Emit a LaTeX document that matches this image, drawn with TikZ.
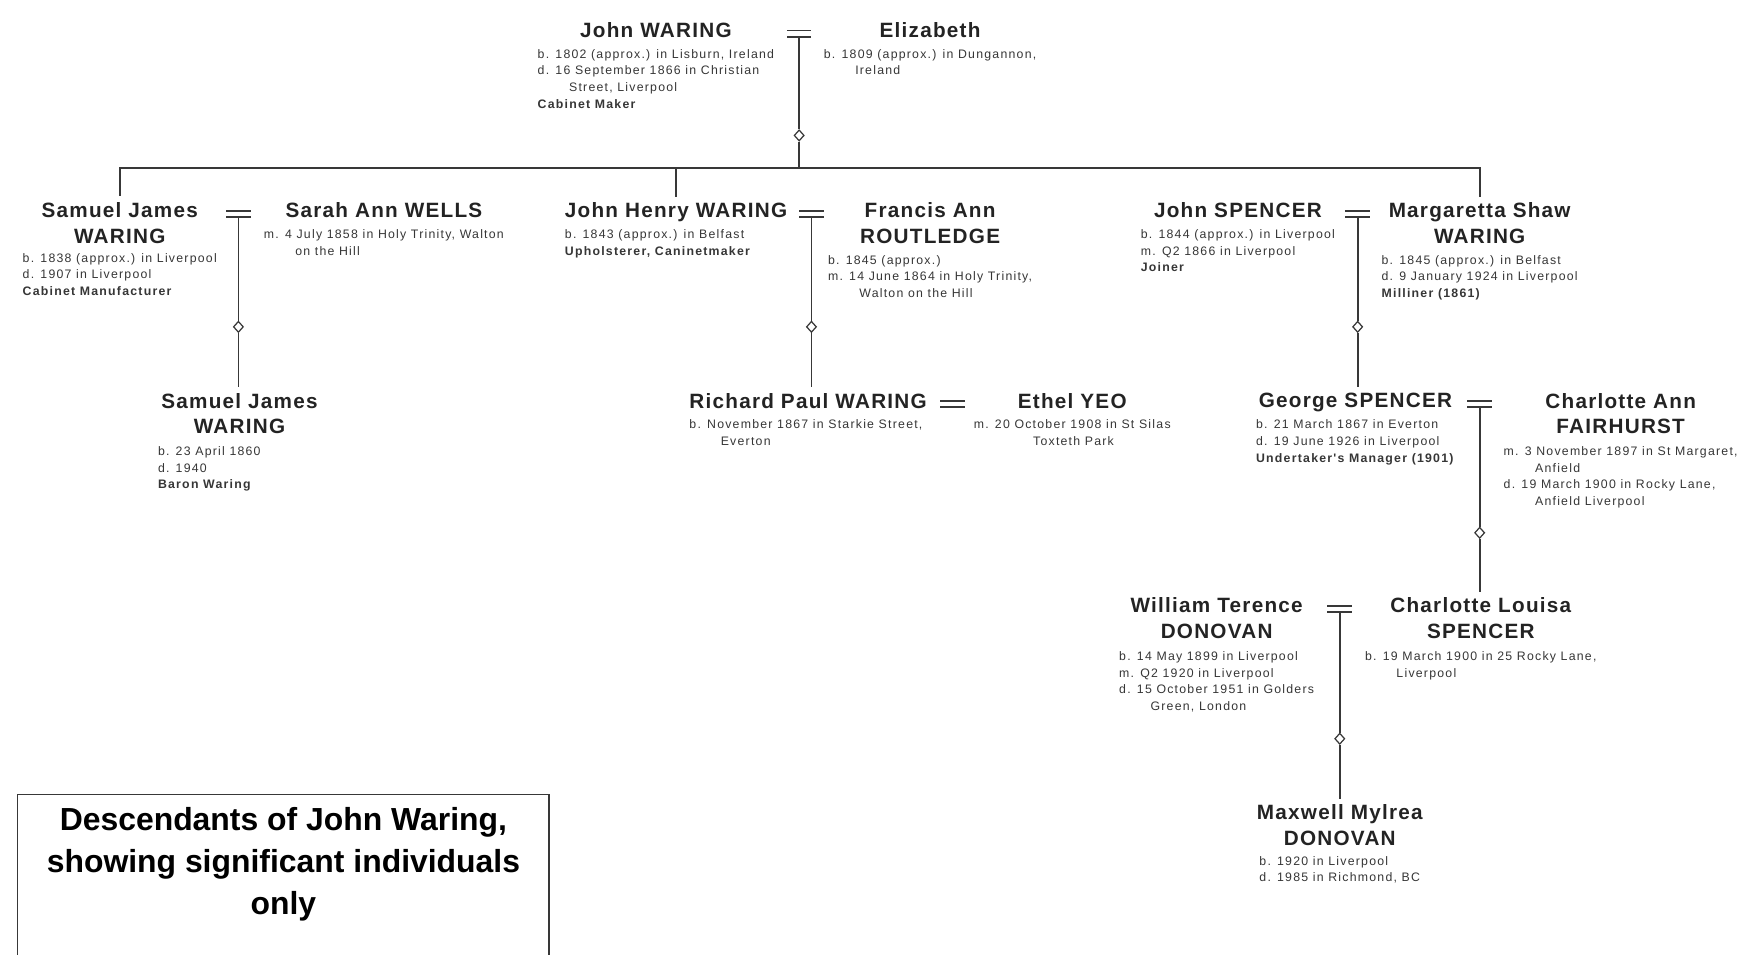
\documentclass[tikz,border=0pt]{standalone}
\usepackage{fontspec}
\setmainfont{Liberation Sans}
\newfontfamily\namefont[LetterSpace=6]{Liberation Sans}
\newfontfamily\infofont[LetterSpace=10]{Liberation Sans}
\usepackage{xcolor}
\usetikzlibrary{shapes.geometric,positioning,calc}
\definecolor{namecol}{HTML}{232323}
\definecolor{infocol}{HTML}{363636}
\definecolor{linecol}{HTML}{383838}
\newcommand{\wrapind}{\hspace*{28pt}}

\begin{document}
\begin{tikzpicture}[x=1pt, y=-1pt,
    pname/.style={font=\namefont\bfseries\fontsize{18.5}{23}\selectfont, text=namecol, align=center, inner sep=0pt, anchor=north},
    pinfo/.style={font=\infofont\fontsize{11}{14.8}\selectfont, text=infocol, align=left, inner sep=0pt, anchor=north},
    link/.style={draw=linecol, line width=1.6pt},
    wedlock/.style={draw=linecol, line width=1.6pt, double=white, double distance=4pt},
    issue/.style={diamond, draw=linecol, fill=white, line width=1.1pt, inner sep=0pt, minimum width=9pt, minimum height=10pt},
    titlebox/.style={draw=linecol, line width=1.4pt, anchor=north west, inner sep=0pt, minimum width=475pt, minimum height=200pt},
    titletext/.style={font=\bfseries\fontsize{28.5}{37.5}\selectfont, align=center, inner sep=0pt}]
    \useasboundingbox (0,0) rectangle (1568,853);

    % John and Elizabeth
    \node[pname] (john) at (586,20) {John WARING};
    \node[pinfo] (johninfo) at (586,44) {b. 1802 (approx.) in Lisburn, Ireland\\ d. 16 September 1866 in Christian\\ \wrapind Street, Liverpool\\ \textbf{Cabinet Maker}};
    \node[pname] (eliz) at (831,20) {Elizabeth};
    \node[pinfo] (elizinfo) at (831,44) {b. 1809 (approx.) in Dungannon,\\ \wrapind Ireland};
    \coordinate (m0) at (714,30);
    \node[issue] (d0) at (714,121) {};
    \coordinate (bar) at (714,150);

    % their children
    \node[pname] (samuel) at (107,181) {Samuel James\\ WARING};
    \node[pinfo] (samuelinfo) at (107,226) {b. 1838 (approx.) in Liverpool\\ d. 1907 in Liverpool\\ \textbf{Cabinet Manufacturer}};
    \coordinate (m1) at (213,191);
    \node[issue] (d1) at (213,292) {};
    \node[pname] (sarah) at (343,181) {Sarah Ann WELLS};
    \node[pinfo] (sarahinfo) at (343,205) {m. 4 July 1858 in Holy Trinity, Walton\\ \wrapind on the Hill};

    \node[pname] (jhenry) at (604,181) {John Henry WARING};
    \node[pinfo, anchor=north west] (jhenryinfo) at (jhenry.west |- 0,205) {b. 1843 (approx.) in Belfast\\ \textbf{Upholsterer, Caninetmaker}};
    \coordinate (m2) at (725,191);
    \node[issue] (d2) at (725,292) {};
    \node[pname] (francis) at (831,181) {Francis Ann\\ ROUTLEDGE};
    \node[pinfo] (francisinfo) at (831,228) {b. 1845 (approx.)\\ m. 14 June 1864 in Holy Trinity,\\ \wrapind Walton on the Hill};

    \node[pname] (jspencer) at (1106,181) {John SPENCER};
    \node[pinfo] (jspencerinfo) at (1106,205) {b. 1844 (approx.) in Liverpool\\ m. Q2 1866 in Liverpool\\ \textbf{Joiner}};
    \coordinate (m4) at (1213,191);
    \node[issue] (d4) at (1213,292) {};
    \node[pname] (marg) at (1322,181) {Margaretta Shaw\\ WARING};
    \node[pinfo] (marginfo) at (1322,228) {b. 1845 (approx.) in Belfast\\ d. 9 January 1924 in Liverpool\\ \textbf{Milliner (1861)}};

    % grandchildren
    \node[pname] (samjr) at (214,351) {Samuel James\\ WARING};
    \node[pinfo, anchor=north west] (samjrinfo) at (141,399) {b. 23 April 1860\\ d. 1940\\ \textbf{Baron Waring}};

    \node[pname] (richard) at (722,351) {Richard Paul WARING};
    \node[pinfo, anchor=north west] (richardinfo) at (richard.west |- 0,375) {b. November 1867 in Starkie Street,\\ \wrapind Everton};
    \coordinate (m3) at (851,361);
    \node[pname] (ethel) at (958,351) {Ethel YEO};
    \node[pinfo] (ethelinfo) at (958,375) {m. 20 October 1908 in St Silas\\ \hspace*{53pt}Toxteth Park};

    \node[pname] (george) at (1211,351) {George SPENCER};
    \node[pinfo] (georgeinfo) at (1211,375) {b. 21 March 1867 in Everton\\ d. 19 June 1926 in Liverpool\\ \textbf{Undertaker's Manager (1901)}};
    \coordinate (m5) at (1322,361);
    \node[issue] (d5) at (1322,476) {};
    \node[pname] (charann) at (1448,351) {Charlotte Ann\\ FAIRHURST};
    \node[pinfo] (charanninfo) at (1448,399) {m. 3 November 1897 in St Margaret,\\ \wrapind Anfield\\ d. 19 March 1900 in Rocky Lane,\\ \wrapind Anfield Liverpool};

    % next generations
    \node[pname] (william) at (1087,534) {William Terence\\ DONOVAN};
    \node[pinfo] (williaminfo) at (1087,582) {b. 14 May 1899 in Liverpool\\ m. Q2 1920 in Liverpool\\ d. 15 October 1951 in Golders\\ \wrapind Green, London};
    \coordinate (m6) at (1197,544);
    \node[issue] (d6) at (1197,660) {};
    \node[pname] (charlou) at (1323,534) {Charlotte Louisa\\ SPENCER};
    \node[pinfo] (charlouinfo) at (1323,582) {b. 19 March 1900 in 25 Rocky Lane,\\ \wrapind Liverpool};

    \node[pname] (maxwell) at (1197,719) {Maxwell Mylrea\\ DONOVAN};
    \node[pinfo] (maxwellinfo) at (1197,765) {b. 1920 in Liverpool\\ d. 1985 in Richmond, BC};

    % marriages
    \foreach \m in {m0,m1,m2,m3,m4,m5,m6}
        \draw[wedlock] ([xshift=-11pt]\m) -- ([xshift=11pt]\m);

    % descent lines
    \draw[link] ([yshift=-3.4pt]m0) -- (d0) -- (bar);
    \draw[link, shorten <=6pt, shorten >=5pt] (samuel.north) |- (bar) -| (marg.north);
    \draw[link, shorten <=5pt] (jhenry.north) -- (jhenry.north |- bar);
    \draw[link] ([yshift=-3.4pt]m1) -- (d1);
    \draw[link, shorten >=5pt] (d1) -- (d1 |- samjr.north);
    \draw[link] ([yshift=-3.4pt]m2) -- (d2);
    \draw[link, shorten >=5pt] (d2) -- (d2 |- richard.north);
    \draw[link] ([yshift=-3.4pt]m4) -- (d4);
    \draw[link, shorten >=5pt] (d4) -- (d4 |- george.north);
    \draw[link] ([yshift=-3.4pt]m5) -- (d5);
    \draw[link, shorten >=5pt] (d5) -- (d5 |- charlou.north);
    \draw[link] ([yshift=-3.4pt]m6) -- (d6);
    \draw[link, shorten >=5pt] (d6) -- (d6 |- maxwell.north);

    % title
    \node[titlebox] (frame) at (15,709) {};
    \node[titletext, below=12pt of frame.north] (title) {Descendants of John Waring,\\ showing significant individuals\\ only};
\end{tikzpicture}
\end{document}
